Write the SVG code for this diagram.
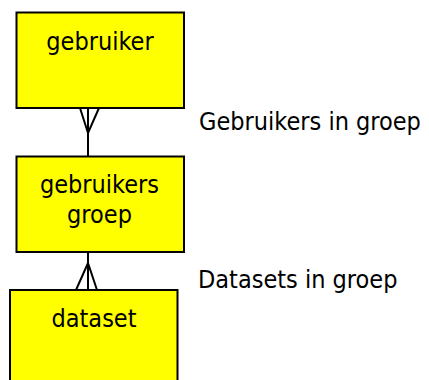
<svg xmlns="http://www.w3.org/2000/svg" width="429" height="380" viewBox="0 0 429 380">
<style>
.box{fill:#ffff00;stroke:#000;stroke-width:2}
.t{font-family:"DejaVu Sans Condensed","DejaVu Sans",sans-serif;font-stretch:condensed;font-size:25px;fill:#000}
.c{text-anchor:middle}
.ln{fill:none;stroke:#000;stroke-width:2}
</style>
<rect width="429" height="380" fill="#fff"/>
<g id="connectors">
<line class="ln" x1="88" y1="108" x2="88" y2="156"/>
<polyline class="ln" points="80,108 88,133 99,108"/>
<line class="ln" x1="88" y1="252" x2="88" y2="290"/>
<polyline class="ln" points="76,290 88,263 97,290"/>
</g>
<g id="gebruiker">
<rect class="box" x="16.5" y="12.5" width="167.5" height="95.5"/>
<text class="t c" x="100" y="50">gebruiker</text>
</g>
<g id="gebruikersgroep">
<rect class="box" x="16.5" y="156.5" width="167.5" height="95.5"/>
<text class="t c" x="99.5" y="193">gebruikers</text>
<text class="t c" x="99.5" y="223">groep</text>
</g>
<g id="dataset">
<rect class="box" x="10" y="290" width="167.5" height="100"/>
<text class="t c" x="94" y="327">dataset</text>
</g>
<g id="labels">
<text class="t" x="199" y="130">Gebruikers in groep</text>
<text class="t" x="198" y="288">Datasets in groep</text>
</g>
</svg>
